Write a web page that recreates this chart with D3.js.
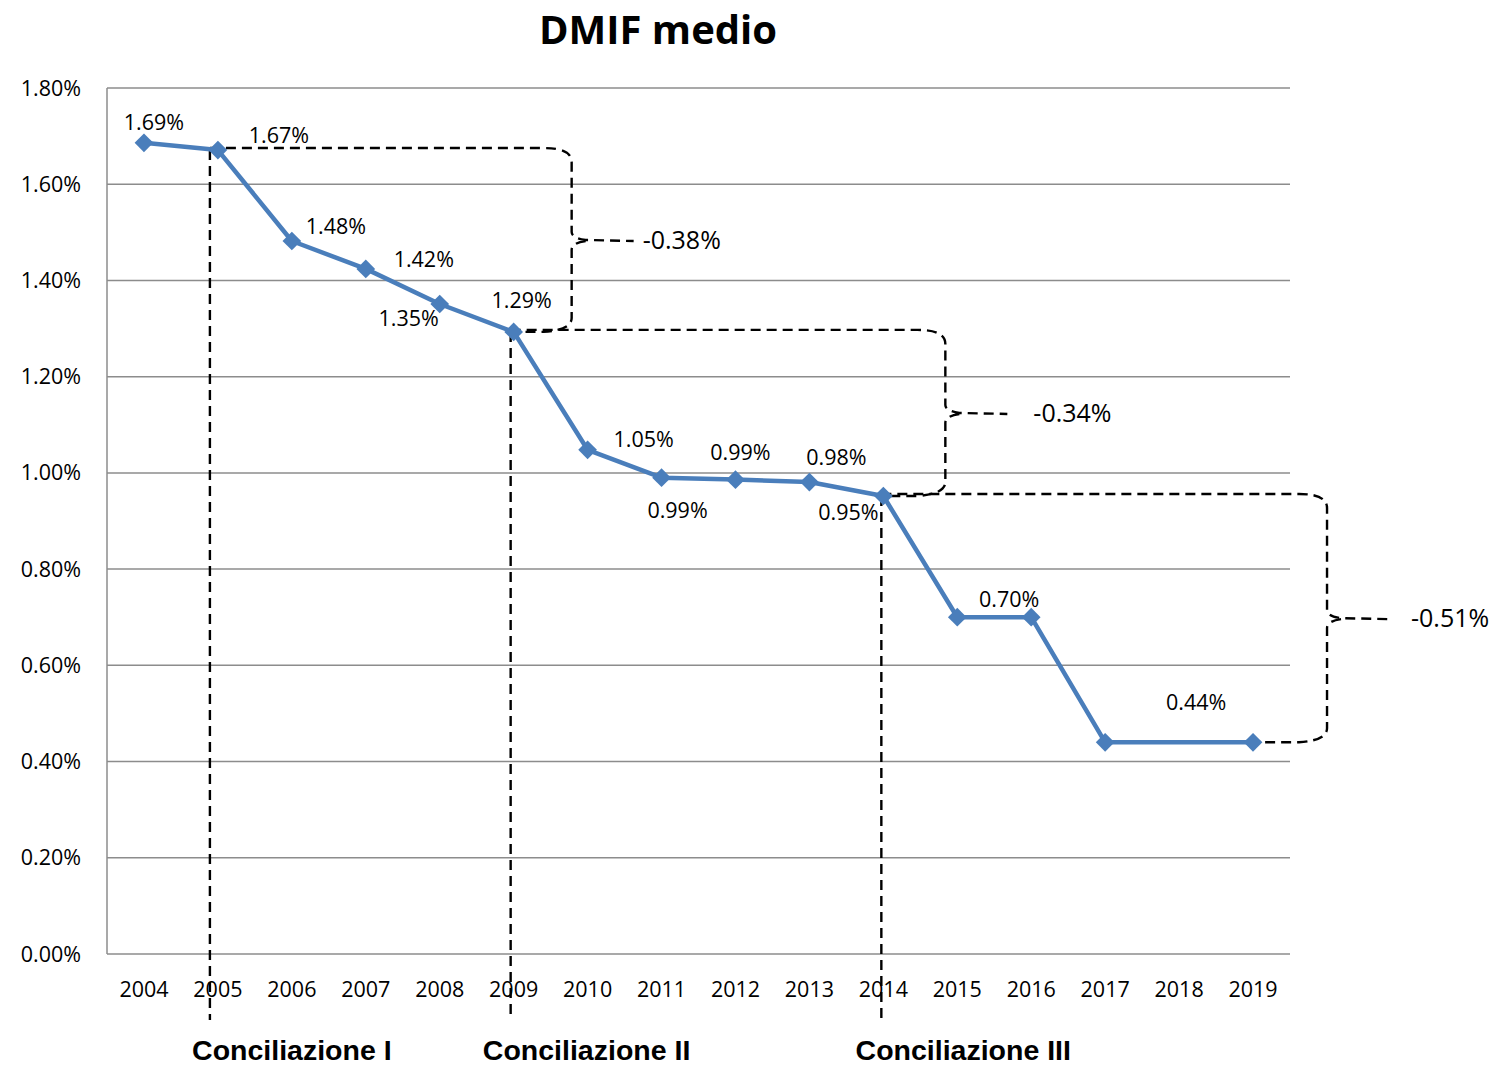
<!DOCTYPE html>
<html>
<head>
<meta charset="utf-8">
<script src="https://cdn.jsdelivr.net/npm/d3@7"></script>
<style>
  body { margin: 0; background: #fff; }
  text { font-family: "Open Sans", sans-serif; fill: #000; }
</style>
</head>
<body>
<div id="chart"></div>
<script>
// DMIF medio: andamento 2004-2019 con le tre conciliazioni
const years = ["2004", "2005", "2006", "2007", "2008", "2009", "2010", "2011",
               "2012", "2013", "2014", "2015", "2016", "2017", "2018", "2019"];
const dmif = [1.686, 1.671, 1.482, 1.424, 1.351, 1.293, 1.048, 0.99,
              0.986, 0.981, 0.952, 0.70, 0.70, 0.44, null, 0.44];
const labelledYears = ["2004", "2005", "2006", "2007", "2008", "2009", "2010", "2011",
                       "2012", "2013", "2014", "2016", "2017"];
const yTicks = [0, 0.2, 0.4, 0.6, 0.8, 1.0, 1.2, 1.4, 1.6, 1.8];

const phaseNames = ["Conciliazione I", "Conciliazione II", "Conciliazione III"];
const phaseYears = ["2005", "2009", "2014"];
const dropFrom = ["2005", "2009", "2014"];
const dropTo = ["2009", "2014", "2019"];
const dropText = ["-0.38%", "-0.34%", "-0.51%"];

// layout tweaks for labels / annotations (pixels)
const labelOffset = {
  "2004": [10, -20], "2005": [61, -15], "2006": [44, -15], "2007": [58, -9],
  "2008": [-31, 14], "2009": [8, -31], "2010": [56, -10], "2011": [16, 33],
  "2012": [5, -27], "2013": [27, -25], "2014": [-35, 16], "2016": [-22, -18],
  "2017": [91, -40]
};
const phaseLineShift = [-8, -3, -2];
const braceShift = [58, 62, 74];
const braceEndShift = [-3, -2, 9];
const dropLabelGap = [71, 88, 84];

const width = 1507, height = 1066;
const margin = { top: 88, right: 217, bottom: 112, left: 107 };

const svg = d3.select("#chart").append("svg")
  .attr("width", width)
  .attr("height", height);

const x = d3.scaleBand().domain(years).range([margin.left, width - margin.right]).padding(0);
const y = d3.scaleLinear().domain([0, 1.8]).range([height - margin.bottom, margin.top]);
const cx = yr => x(yr) + x.bandwidth() / 2;

const data = years.map((yr, i) => ({ year: yr, value: dmif[i] }));
const valid = data.filter(d => d.value != null);
const valOf = yr => dmif[years.indexOf(yr)];

// title
svg.append("text")
  .attr("x", 658).attr("y", 44)
  .attr("text-anchor", "middle")
  .style("font-size", "40px").style("font-weight", "bold")
  .text("DMIF medio");

// gridlines
svg.append("g").selectAll("line")
  .data(yTicks)
  .enter().append("line")
  .attr("x1", margin.left).attr("x2", width - margin.right)
  .attr("y1", d => y(d)).attr("y2", d => y(d))
  .attr("stroke", "#8c8c8c").attr("stroke-width", 1.5);

// left axis line
svg.append("line")
  .attr("x1", margin.left).attr("x2", margin.left)
  .attr("y1", y(1.8)).attr("y2", y(0))
  .attr("stroke", "#8c8c8c").attr("stroke-width", 1.5);

// y tick labels
svg.append("g").selectAll("text")
  .data(yTicks)
  .enter().append("text")
  .attr("x", margin.left - 26)
  .attr("y", d => y(d))
  .attr("dy", "0.35em")
  .attr("text-anchor", "end")
  .style("font-size", "21.5px")
  .text(d => d3.format(".2f")(d) + "%");

// x tick labels
svg.append("g").selectAll("text")
  .data(years)
  .enter().append("text")
  .attr("x", d => cx(d))
  .attr("y", y(0) + 35)
  .attr("dy", "0.35em")
  .attr("text-anchor", "middle")
  .style("font-size", "21.5px")
  .text(d => d);

// dashed annotations
const ann = svg.append("g")
  .attr("fill", "none")
  .attr("stroke", "#000")
  .attr("stroke-width", 2.4)
  .attr("stroke-dasharray", "10,6");

phaseYears.forEach((yr, i) => {
  const lx = cx(yr) + phaseLineShift[i];
  ann.append("line")
    .attr("x1", lx).attr("x2", lx)
    .attr("y1", y(valOf(yr))).attr("y2", y(0) + 66);
});

dropFrom.forEach((from, i) => {
  const x0 = cx(from) + phaseLineShift[i];
  const x1 = cx(dropTo[i]) + braceEndShift[i];
  const xb = cx(dropTo[i]) + braceShift[i];
  const yt = y(valOf(from)) - 2;
  const yb = y(valOf(dropTo[i]));
  const ym = (yt + yb) / 2;
  const r = 14;
  const p = d3.path();
  p.moveTo(x0, yt);
  p.lineTo(xb - 2 * r, yt);
  p.quadraticCurveTo(xb, yt, xb, yt + r);
  p.lineTo(xb, ym - 8);
  p.quadraticCurveTo(xb, ym - 2, xb + r, ym);
  p.lineTo(xb + 62, ym + 1);
  p.moveTo(xb + r, ym + 1);
  p.quadraticCurveTo(xb, ym + 3, xb, ym + 10);
  p.lineTo(xb, yb - r);
  p.quadraticCurveTo(xb, yb - 2, xb - 2 * r, yb);
  p.lineTo(x1, yb);
  ann.append("path").attr("d", p.toString());

  svg.append("text")
    .attr("x", xb + dropLabelGap[i])
    .attr("y", ym)
    .attr("dy", "0.35em")
    .style("font-size", "25px")
    .text(dropText[i]);
});

// series line
const line = d3.line().x(d => cx(d.year)).y(d => y(d.value));
svg.append("path")
  .datum(valid)
  .attr("d", line)
  .attr("fill", "none")
  .attr("stroke", "#4a7ebb")
  .attr("stroke-width", 4.5)
  .attr("stroke-linejoin", "round");

// diamond markers
svg.append("g").selectAll("path")
  .data(valid)
  .enter().append("path")
  .attr("d", d3.symbol().type(d3.symbolSquare).size(175))
  .attr("transform", d => `translate(${cx(d.year)},${y(d.value)}) rotate(45)`)
  .attr("fill", "#4a7ebb");

// data labels
svg.append("g").selectAll("text")
  .data(valid.filter(d => labelledYears.includes(d.year)))
  .enter().append("text")
  .attr("x", d => cx(d.year) + labelOffset[d.year][0])
  .attr("y", d => y(d.value) + labelOffset[d.year][1])
  .attr("dy", "0.35em")
  .attr("text-anchor", "middle")
  .style("font-size", "21.5px")
  .text(d => d3.format(".2f")(d.value) + "%");

// conciliazione labels
svg.append("g").selectAll("text")
  .data(phaseNames)
  .enter().append("text")
  .attr("x", (d, i) => cx(years[years.indexOf(phaseYears[i]) + 1]) + [0, -1, 6][i])
  .attr("y", y(0) + 96)
  .attr("dy", "0.35em")
  .attr("text-anchor", "middle")
  .style("font-family", "'Liberation Sans', Arial, sans-serif")
  .style("font-size", "28.5px")
  .style("font-weight", "bold")
  .text(d => d);
</script>
</body>
</html>
